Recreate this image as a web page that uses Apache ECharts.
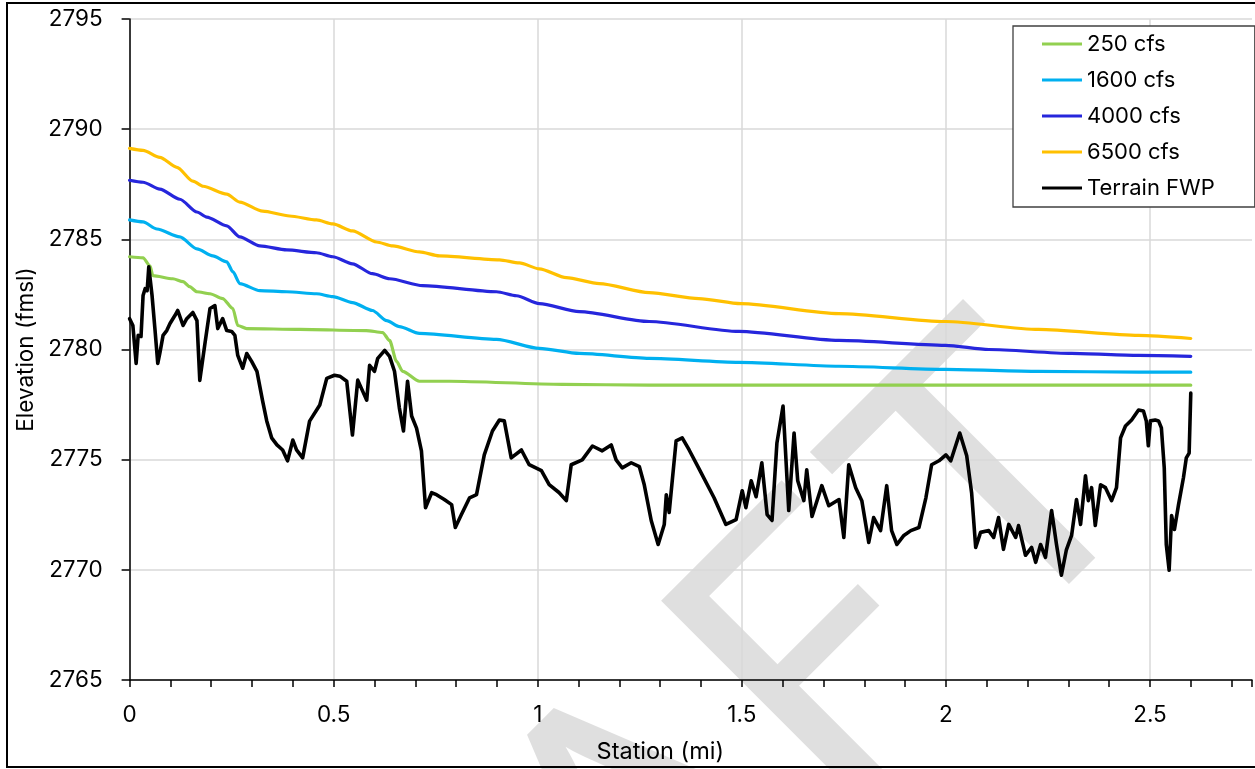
<!DOCTYPE html>
<html>
<head>
<meta charset="utf-8">
<style>
  html, body { margin: 0; padding: 0; background: #fff; }
  #chart { width: 1255px; height: 769px; }
</style>
<script src="https://cdn.jsdelivr.net/npm/echarts@6.0.0/dist/echarts.min.js"></script>
</head>
<body>
<div id="chart"></div>
<script>
// Water-surface profiles [station (mi), elevation (fmsl)]
const flow250 = [[0,2784.21],[0.033,2784.16],[0.05,2783.80],[0.057,2783.35],[0.106,2783.21],[0.131,2783.08],[0.147,2782.85],[0.165,2782.62],[0.197,2782.53],[0.228,2782.31],[0.253,2781.86],[0.265,2781.09],[0.287,2780.95],[0.417,2780.91],[0.58,2780.86],[0.62,2780.77],[0.637,2780.41],[0.654,2779.46],[0.669,2779.01],[0.71,2778.56],[0.784,2778.56],[1.06,2778.42],[1.273,2778.38],[2.6,2778.38]];

const flow1600 = [[0,2785.88],[0.033,2785.79],[0.067,2785.47],[0.123,2785.11],[0.165,2784.57],[0.204,2784.25],[0.238,2783.98],[0.253,2783.53],[0.27,2782.99],[0.319,2782.67],[0.385,2782.62],[0.458,2782.53],[0.498,2782.40],[0.546,2782.13],[0.595,2781.77],[0.63,2781.31],[0.661,2781.04],[0.71,2780.73],[0.899,2780.46],[1.004,2780.05],[1.102,2779.82],[1.273,2779.60],[1.493,2779.42],[1.738,2779.24],[1.999,2779.10],[2.227,2779.01],[2.472,2778.97],[2.6,2778.97]];

const flow4000 = [[0,2787.68],[0.033,2787.59],[0.074,2787.28],[0.123,2786.82],[0.165,2786.24],[0.189,2786.01],[0.238,2785.61],[0.27,2785.11],[0.319,2784.70],[0.385,2784.52],[0.458,2784.39],[0.498,2784.21],[0.546,2783.89],[0.595,2783.44],[0.637,2783.21],[0.718,2782.90],[0.899,2782.62],[0.948,2782.44],[1.004,2782.08],[1.102,2781.72],[1.273,2781.27],[1.493,2780.82],[1.738,2780.41],[1.999,2780.19],[2.105,2780.00],[2.308,2779.82],[2.472,2779.73],[2.6,2779.69]];

const flow6500 = [[0,2789.13],[0.033,2789.04],[0.074,2788.72],[0.116,2788.27],[0.155,2787.64],[0.18,2787.41],[0.238,2787.05],[0.27,2786.69],[0.326,2786.28],[0.392,2786.06],[0.458,2785.88],[0.498,2785.70],[0.546,2785.38],[0.605,2784.88],[0.645,2784.70],[0.71,2784.43],[0.759,2784.25],[0.906,2784.07],[0.955,2783.93],[1.004,2783.66],[1.07,2783.26],[1.151,2782.99],[1.273,2782.58],[1.395,2782.31],[1.498,2782.08],[1.738,2781.63],[1.999,2781.27],[2.227,2780.91],[2.472,2780.64],[2.6,2780.50]];

// Ground profile along the channel
const terrain = [[0,2781.40],[0.008,2781.09],[0.016,2779.37],[0.021,2780.64],[0.028,2780.59],[0.033,2782.45],[0.038,2782.76],[0.043,2782.67],[0.047,2783.75],[0.055,2782.45],[0.062,2780.95],[0.069,2779.37],[0.074,2779.82],[0.082,2780.64],[0.091,2780.86],[0.099,2781.18],[0.111,2781.54],[0.118,2781.77],[0.131,2781.09],[0.14,2781.40],[0.155,2781.68],[0.165,2781.31],[0.172,2778.60],[0.184,2780.19],[0.197,2781.86],[0.209,2781.99],[0.216,2780.95],[0.228,2781.40],[0.238,2780.86],[0.25,2780.82],[0.258,2780.64],[0.265,2779.73],[0.277,2779.15],[0.287,2779.82],[0.299,2779.46],[0.312,2779.01],[0.326,2777.66],[0.336,2776.76],[0.348,2775.99],[0.361,2775.67],[0.375,2775.44],[0.387,2774.95],[0.4,2775.89],[0.409,2775.44],[0.424,2775.08],[0.441,2776.75],[0.466,2777.48],[0.483,2778.69],[0.502,2778.83],[0.515,2778.79],[0.532,2778.56],[0.546,2776.12],[0.559,2778.61],[0.571,2778.11],[0.581,2777.70],[0.588,2779.28],[0.6,2779.01],[0.608,2779.60],[0.625,2779.96],[0.637,2779.69],[0.649,2779.01],[0.661,2777.34],[0.671,2776.30],[0.681,2778.56],[0.691,2776.98],[0.703,2776.43],[0.715,2775.40],[0.725,2772.82],[0.74,2773.50],[0.752,2773.41],[0.771,2773.19],[0.789,2772.96],[0.798,2771.92],[0.813,2772.51],[0.833,2773.27],[0.85,2773.41],[0.869,2775.22],[0.889,2776.30],[0.906,2776.80],[0.918,2776.76],[0.935,2775.08],[0.96,2775.44],[0.979,2774.77],[1.009,2774.50],[1.028,2773.87],[1.052,2773.51],[1.07,2773.14],[1.082,2774.77],[1.109,2774.99],[1.134,2775.62],[1.158,2775.40],[1.18,2775.67],[1.192,2774.99],[1.207,2774.63],[1.229,2774.86],[1.249,2774.68],[1.261,2773.86],[1.278,2772.24],[1.295,2771.15],[1.31,2772.06],[1.315,2773.41],[1.322,2772.60],[1.339,2775.85],[1.354,2775.99],[1.371,2775.44],[1.395,2774.59],[1.432,2773.27],[1.461,2772.06],[1.486,2772.28],[1.501,2773.59],[1.51,2772.82],[1.523,2774.04],[1.535,2773.32],[1.549,2774.86],[1.562,2772.51],[1.574,2772.24],[1.586,2775.76],[1.601,2777.43],[1.615,2772.69],[1.628,2776.21],[1.637,2774.04],[1.652,2773.14],[1.659,2774.54],[1.672,2772.42],[1.696,2773.82],[1.713,2772.91],[1.738,2773.19],[1.75,2771.47],[1.762,2774.77],[1.779,2773.73],[1.794,2773.14],[1.811,2771.24],[1.823,2772.37],[1.84,2771.78],[1.855,2773.82],[1.867,2771.78],[1.88,2771.15],[1.897,2771.56],[1.914,2771.78],[1.934,2771.92],[1.951,2773.27],[1.965,2774.77],[1.983,2774.95],[2.0,2775.22],[2.012,2774.95],[2.034,2776.21],[2.051,2775.18],[2.063,2773.50],[2.073,2771.02],[2.085,2771.70],[2.105,2771.78],[2.117,2771.47],[2.129,2772.37],[2.141,2770.93],[2.154,2772.06],[2.171,2771.47],[2.178,2772.01],[2.195,2770.66],[2.21,2771.02],[2.22,2770.34],[2.232,2771.15],[2.244,2770.57],[2.259,2772.69],[2.271,2771.15],[2.283,2769.76],[2.295,2770.89],[2.308,2771.56],[2.32,2773.19],[2.33,2772.06],[2.342,2774.27],[2.349,2773.14],[2.357,2773.73],[2.366,2772.01],[2.379,2773.86],[2.391,2773.73],[2.406,2773.14],[2.418,2773.73],[2.428,2775.99],[2.44,2776.53],[2.455,2776.80],[2.472,2777.25],[2.484,2777.21],[2.491,2776.76],[2.496,2775.63],[2.501,2776.76],[2.513,2776.80],[2.521,2776.76],[2.528,2776.44],[2.535,2774.63],[2.54,2771.15],[2.547,2769.98],[2.553,2772.46],[2.56,2771.83],[2.57,2772.96],[2.582,2774.18],[2.589,2775.08],[2.596,2775.30],[2.6,2778.02]];

const seriesNames = ['250 cfs', '1600 cfs', '4000 cfs', '6500 cfs', 'Terrain FWP'];
const seriesColors = ['#92D050', '#00B0F0', '#2626DC', '#FFC000', '#000000'];
const seriesData = [flow250, flow1600, flow4000, flow6500, terrain];

const watermarkLetters = ['D', 'R', 'A', 'F', 'T'];
const watermarkOffsets = [-816, -538, -299, -33, 207];

const FONT = 'Inter';
const isHalf = v => Math.abs(v * 2 - Math.round(v * 2)) < 1e-6;

const chart = echarts.init(document.getElementById('chart'), null, { renderer: 'canvas' });

const series = seriesNames.map((name, i) => ({
  name,
  type: 'line',
  data: seriesData[i],
  symbol: 'none',
  showSymbol: false,
  smooth: i < 4 ? 0.25 : false,
  smoothMonotone: i < 4 ? 'x' : undefined,
  lineStyle: { color: seriesColors[i], width: i < 4 ? 3.2 : 3.6, join: 'round', cap: 'round' },
  itemStyle: { color: seriesColors[i] },
  z: 2 + i
}));

chart.setOption({
  animation: false,
  backgroundColor: '#fff',
  grid: { left: 129.6, right: 1.2, top: 19, bottom: 85.3 },
  xAxis: [
    {
      type: 'value', min: 0, max: 2.75, interval: 0.1,
      name: 'Station (mi)', nameLocation: 'middle', nameGap: 60,
      nameTextStyle: { fontFamily: FONT, fontSize: 23.5, color: '#000', padding: [0, 61, 0, 0] },
      axisLine: { lineStyle: { color: '#000', width: 1.5 } },
      axisTick: { length: 7, lineStyle: { color: '#000', width: 1.5 } },
      axisLabel: {
        margin: 24, fontFamily: FONT, fontSize: 22.5, color: '#000',
        formatter: v => isHalf(v) ? String(Math.round(v * 10) / 10) : ''
      },
      splitLine: { show: false }
    },
    {
      type: 'value', min: 0, max: 2.75, interval: 0.5,
      axisLine: { show: false }, axisTick: { show: false }, axisLabel: { show: false },
      splitLine: { show: true, showMaxLine: false, lineStyle: { color: '#d9d9d9', width: 1.5 } }
    }
  ],
  yAxis: {
    type: 'value', min: 2765, max: 2795, interval: 5,
    name: 'Elevation (fmsl)', nameLocation: 'middle', nameGap: 80,
    nameTextStyle: { fontFamily: FONT, fontSize: 22.5, color: '#000' },
    axisLine: { show: true, lineStyle: { color: '#000', width: 1.5 } },
    axisTick: { show: true, length: 8, lineStyle: { color: '#000', width: 1.5 } },
    axisLabel: { margin: 27, fontFamily: FONT, fontSize: 22.5, color: '#000', formatter: v => String(v) },
    splitLine: { lineStyle: { color: '#d9d9d9', width: 1.5 } }
  },
  legend: {
    data: seriesNames,
    orient: 'vertical', left: 1013, top: 26,
    padding: [7, 40, 8, 29], itemGap: 14,
    itemWidth: 40, itemHeight: 3, icon: 'rect',
    borderColor: '#404040', borderWidth: 1.3, backgroundColor: '#fff',
    textStyle: { fontFamily: FONT, fontSize: 22, color: '#000', lineHeight: 22 }
  },
  series,
  graphic: [
    {
      type: 'group', x: 866, y: 809, rotation: Math.PI / 4, z: 100, silent: true,
      children: watermarkLetters.map((ch, i) => ({
        type: 'text', x: watermarkOffsets[i], y: -140,
        style: {
          text: ch, fontFamily: 'Lato', fontSize: 386,
          fill: 'rgba(128,128,128,0.25)', align: 'left', verticalAlign: 'middle'
        }
      }))
    },
    {
      type: 'rect', z: 110, silent: true,
      shape: { x: 7, y: 3, width: 1262, height: 764 },
      style: { fill: 'none', stroke: '#000', lineWidth: 2 }
    }
  ]
});
</script>
</body>
</html>
